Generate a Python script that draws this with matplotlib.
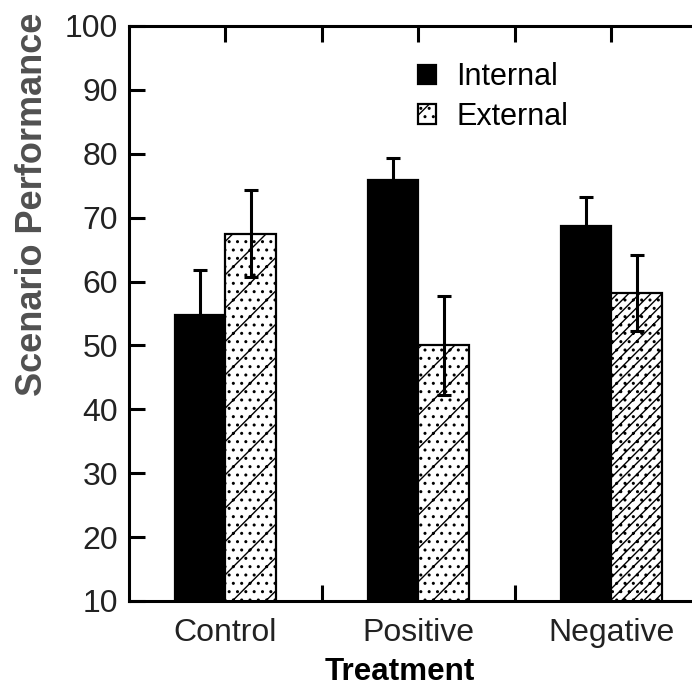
import matplotlib
matplotlib.use('Agg')
import matplotlib.pyplot as plt
import numpy as np

plt.rcParams['font.family'] = ['Liberation Sans', 'DejaVu Sans']
plt.rcParams['hatch.linewidth'] = 0.5

# data
treatments = ['Control', 'Positive', 'Negative']
internal = [54.8, 75.9, 68.7]
internal_err = [7.0, 3.5, 4.5]
external = [67.5, 50.0, 58.2]
external_err = [6.8, 7.8, 6.0]
external_hatch = ['//....', '//....', '//////....']

fig = plt.figure(figsize=(3.46, 3.49), dpi=200)
ax = fig.add_axes([0.1864, 0.139, 0.8367, 0.8238])

pos = np.arange(len(treatments))
width = 0.26

b1 = ax.bar(pos - width/2, internal, width=width, color='black',
            edgecolor='black', linewidth=0.8, label='Internal', zorder=2)
b2 = ax.bar(pos + width/2, external, width=width, color='white',
            edgecolor='black', linewidth=0.8, label='External', zorder=2)
for bar, h in zip(b2, external_hatch):
    bar.set_hatch(h)

ax.errorbar(pos - width/2, internal, yerr=internal_err, fmt='none', ecolor='black',
            elinewidth=1.1, capsize=2.4, capthick=1.1, zorder=3)
ax.errorbar(pos + width/2, external, yerr=external_err, fmt='none', ecolor='black',
            elinewidth=1.1, capsize=2.4, capthick=1.1, zorder=3)

ax.set_xlim(-0.5, 2.5)
ax.set_ylim(10, 100)
ax.set_yticks(np.arange(10, 101, 10))
ax.set_xticks(pos)
ax.set_xticklabels(treatments)
ax.set_xticks([0.5, 1.5], minor=True)

for sp in ax.spines.values():
    sp.set_linewidth(1.1)

ax.tick_params(which='both', direction='in', length=5.8, width=1.1,
               top=True, right=True, labelsize=11.5, labelcolor='#222222')
ax.tick_params(axis='y', which='minor', left=False, right=False)
ax.tick_params(axis='y', pad=4)
ax.tick_params(axis='x', pad=6)
for t in ax.xaxis.get_major_ticks():
    t.tick1line.set_visible(False)

ax.set_ylabel('Scenario Performance', fontsize=13, fontweight='bold', color='#505050')
ax.yaxis.set_label_coords(-0.136, 0.69)
ax.set_xlabel('Treatment', fontsize=11.3, fontweight='bold', color='black')
ax.xaxis.set_label_coords(0.468, -0.097)

ax.legend(loc='upper left', bbox_to_anchor=(0.499, 0.937), frameon=False,
          fontsize=11, handlelength=0.6, handleheight=0.6, handletextpad=0.65,
          labelspacing=0.31, borderpad=0, borderaxespad=0)

fig.savefig('out.png', dpi=200)
